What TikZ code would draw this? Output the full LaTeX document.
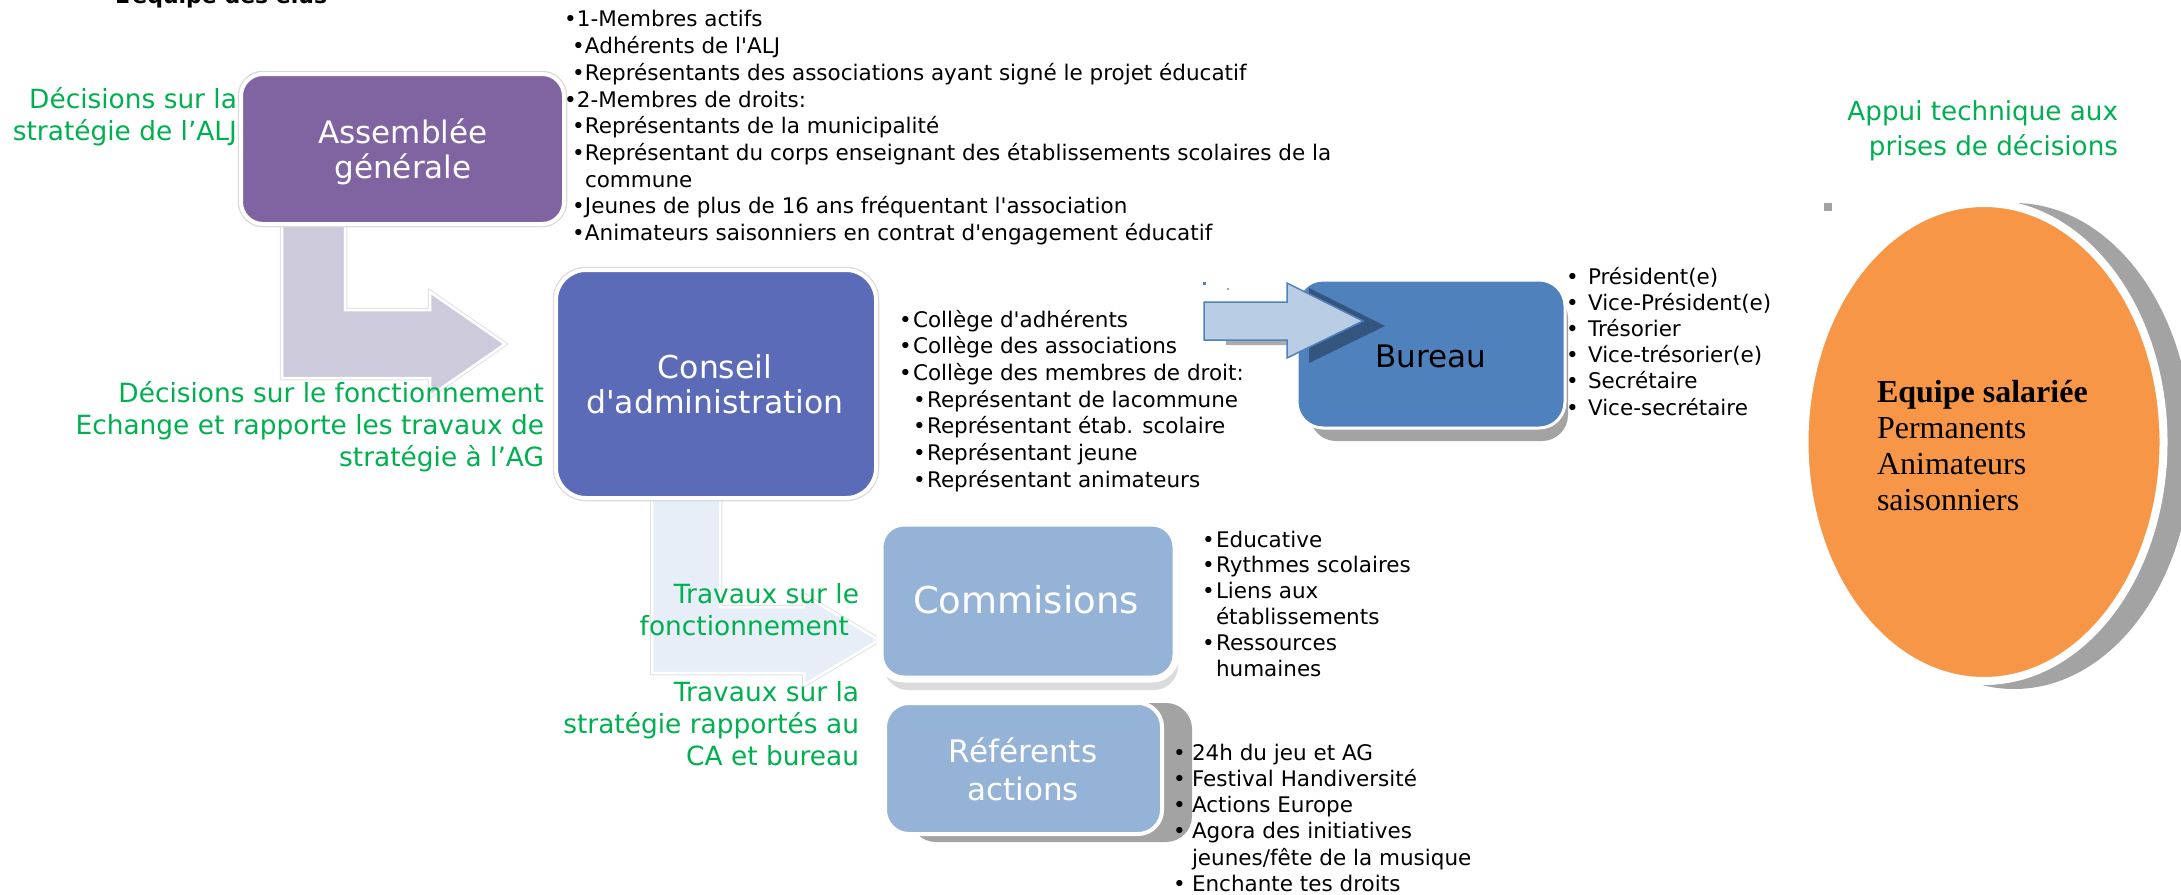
\documentclass[tikz,border=0pt]{standalone}
\usepackage{fontspec}
\setmainfont[Ligatures=TeXOff]{DejaVu Sans}
\newfontfamily\vd[Ligatures=TeXOff]{DejaVu Sans}
\newfontfamily\tms[Ligatures=TeXOff]{Liberation Serif}
\usetikzlibrary{shapes.geometric}
\definecolor{agpurple}{HTML}{8064A2}
\definecolor{cablue}{HTML}{5B6BB7}
\definecolor{lblue}{HTML}{95B3D7}
\definecolor{bublue}{HTML}{4F81BD}
\definecolor{barrow}{HTML}{B9CDE5}
\definecolor{orng}{HTML}{F79646}
\definecolor{grn}{HTML}{00B050}
\definecolor{lav}{HTML}{CDCADB}
\definecolor{pale}{HTML}{E8EEF7}
\definecolor{shd}{HTML}{A3A3A3}
\newlength\bw \newlength\ind
\newcommand{\fs}[2]{\fontsize{#1}{#2}\selectfont}
\newcommand{\Lines}[2]{\begin{tabular}[t]{@{}#1@{}}#2\end{tabular}}
\newcommand{\iA}[1]{\makebox[\bw][l]{•}#1}
\newcommand{\iB}[1]{\hspace*{\ind}\makebox[\bw][l]{•}#1}
\newcommand{\iC}[1]{\hspace*{\ind}\hspace*{\bw}#1}
\tikzset{
  every node/.style={inner sep=0pt, outer sep=0pt},
  boxbase/.style={draw=white, line width=4pt},
  halo/.style={preaction={draw=black!15, line width=6.5pt}},
  lst/.style={anchor=base west, font=\vd\fs{21.5}{26.7}, text=black},
  glabel/.style={anchor=base east, font=\vd\fs{26.4}{32}, text=grn},
  btext/.style={anchor=base, font=\vd\fs{31}{35}, text=white},
  bigarrow/.style={draw=white, line width=2.5pt, preaction={draw=black!12, line width=4.5pt}},
}
\begin{document}
\begin{tikzpicture}[x=1pt, y=-1pt]
\useasboundingbox (0,0) rectangle (2181,894);
\clip (0,0) rectangle (2181,894);
\fill[white] (0,0) rectangle (2181,894);

% title (cut off at the top)
\node[anchor=base west, font=\vd\bfseries\fs{22}{26}, text=black] (title) at (115,3) {L’équipe des élus};

% big bent arrows
\path[bigarrow, fill=lav] (282,224) -- (345,224) -- (345,310) -- (430,310) -- (430,292) -- (505,344) -- (430,396) -- (430,378) -- (282,378) -- cycle;
\path[bigarrow, fill=pale] (652,498) -- (720,498) -- (720,607) -- (804,607) -- (804,595) -- (879,640) -- (804,685) -- (804,673) -- (652,673) -- cycle;

% boxes
\node[boxbase, halo, rounded corners=22pt, fill=agpurple, minimum width=323pt, minimum height=150pt] (ag) at (402.5,149) {};
\node[boxbase, halo, rounded corners=30pt, fill=cablue, minimum width=320pt, minimum height=228pt] (ca) at (716,384) {};
\fill[black!14, rounded corners=24pt] (884,531) rectangle (1178,690);
\node[boxbase, halo, line width=7pt, rounded corners=24pt, fill=lblue, minimum width=296pt, minimum height=156pt] (com) at (1028,601) {};
\fill[shd, rounded corners=26pt] (910,703) rectangle (1192,842);
\node[boxbase, rounded corners=24pt, fill=lblue, minimum width=277pt, minimum height=131pt] (ref) at (1023.5,768.5) {};

% bureau
\fill[shd, rounded corners=26pt] (1310,292) rectangle (1568,441);
\node[draw=white, line width=3pt, rounded corners=26pt, fill=bublue, minimum width=268pt, minimum height=148pt] (bu) at (1431,354) {};
\fill[black, opacity=0.33] (1226,307) -- (1309,307) -- (1309,288) -- (1385,326) -- (1309,363) -- (1309,345) -- (1226,345) -- cycle;
\path[draw=bublue, line width=1.5pt, fill=barrow] (1204,302) -- (1287,302) -- (1287,283) -- (1363,321) -- (1287,358) -- (1287,340) -- (1204,340) -- cycle;
\fill[bublue] (1203,282) rectangle (1206,285);
\fill[black!35] (1227,288) rectangle (1229,290);

% ellipse
\fill[shd] (2014,446) ellipse [x radius=178pt, y radius=243pt];
\node[ellipse, draw=white, line width=8pt, fill=orng, minimum width=359pt, minimum height=478pt] (eq) at (1984,442) {};
\fill[shd] (1824,203) rectangle (1832,211);
\fill[shd] (1163,834) rectangle (1169,840);

% box texts
\node[btext] (agt) at (403,143) {\Lines{c}{Assemblée\\générale}};
\node[btext, font=\vd\fs{31.5}{35.5}] (cat) at (715,378) {\Lines{c}{Conseil\\d'administration}};
\node[btext, font=\vd\fs{37}{40}] (comt) at (1026,613) {Commisions};
\node[btext, font=\vd\fs{31}{38}] (reft) at (1023,762) {\Lines{c}{Référents\\actions}};
\node[btext, text=black] (but) at (1431,367) {Bureau};
\node[anchor=base west, font=\tms\fs{32}{36.3}, text=black] (eqt) at (1877,402) {\Lines{l}{\textbf{Equipe salariée}\\Permanents\\Animateurs\\saisonniers}};

% green labels
\node[glabel] (g1) at (237,108) {\Lines{r}{Décisions sur la\\stratégie de l’ALJ}};
\node[glabel] (g2) at (544,402) {\Lines{r}{Décisions sur le fonctionnement\\Echange et rapporte les travaux de\\stratégie à l’AG}};
\node[glabel] (g3) at (859,603) {\Lines{r}{Travaux sur le\\fonctionnement\hspace*{10pt}}};
\node[glabel] (g4) at (859,701) {\Lines{r}{Travaux sur la\\stratégie rapportés au\\CA et bureau}};
\node[glabel, font=\vd\fs{26.2}{35}] (g5) at (2118,120) {\Lines{r}{Appui technique aux\\prises de décisions}};

% lists
\node[lst] (agl) at (564,27) {\setlength\bw{13pt}\setlength\ind{8pt}\Lines{l}{%
\iA{1-Membres actifs}\\
\iB{Adhérents de l'ALJ}\\
\iB{Représentants des associations ayant signé le projet éducatif}\\
\iA{2-Membres de droits:}\\
\iB{Représentants de la municipalité}\\
\iB{Représentant du corps enseignant des établissements scolaires de la}\\
\iC{commune}\\
\iB{Jeunes de plus de 16 ans fréquentant l'association}\\
\iB{Animateurs saisonniers en contrat d'engagement éducatif}}};

\node[lst] (cal) at (899,327) {\setlength\bw{14pt}\setlength\ind{14pt}\Lines{l}{%
\iA{Collège d'adhérents}\\
\iA{Collège des associations}\\
\iA{Collège des membres de droit:}\\
\iB{Représentant de lacommune}\\
\iB{Représentant étab. scolaire}\\
\iB{Représentant jeune}\\
\iB{Représentant animateurs}}};

\node[lst, font=\vd\fs{21.5}{25.8}] (coml) at (1202,547) {\setlength\bw{14pt}\setlength\ind{0pt}\Lines{l}{%
\iA{Educative}\\
\iA{Rythmes scolaires}\\
\iA{Liens aux}\\
\iC{établissements}\\
\iA{Ressources}\\
\iC{humaines}}};

\node[lst, font=\vd\fs{21.5}{26.2}] (bul) at (1566,284) {\setlength\bw{22pt}\setlength\ind{0pt}\Lines{l}{%
\iA{Président(e)}\\
\iA{Vice-Président(e)}\\
\iA{Trésorier}\\
\iA{Vice-trésorier(e)}\\
\iA{Secrétaire}\\
\iA{Vice-secrétaire}}};

\node[lst, font=\vd\fs{21.5}{26.3}] (refl) at (1173,760) {\setlength\bw{19pt}\setlength\ind{0pt}\Lines{l}{%
\iA{24h du jeu et AG}\\
\iA{Festival Handiversité}\\
\iA{Actions Europe}\\
\iA{Agora des initiatives}\\
\iC{jeunes/fête de la musique}\\
\iA{Enchante tes droits}}};
\end{tikzpicture}
\end{document}
